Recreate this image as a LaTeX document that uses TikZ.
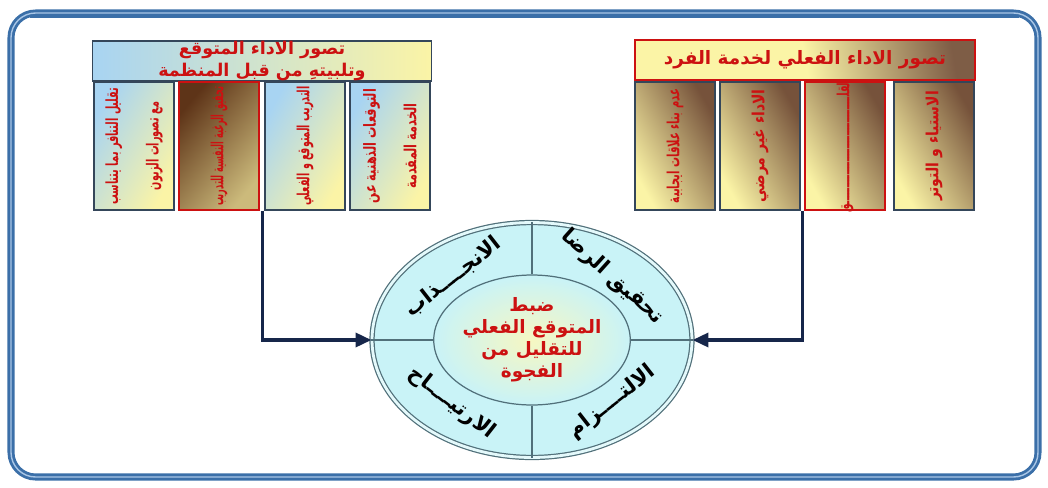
\documentclass[tikz,border=0pt]{standalone}
\usepackage{fontspec}
\newfontfamily\arabicfont[Script=Arabic]{DejaVu Sans}
\TeXXeTstate=1
\usetikzlibrary{positioning, arrows.meta, calc, shapes.geometric}

\definecolor{framebl}{HTML}{3B6FA8}
\definecolor{framelt}{HTML}{A9C6E6}
\definecolor{hdrblue}{HTML}{A8D4F2}
\definecolor{baryel}{HTML}{FBF4A6}
\definecolor{barbrown}{HTML}{5E3418}
\definecolor{edgegray}{HTML}{34465A}
\definecolor{txtred}{HTML}{CC1111}
\definecolor{ringfill}{HTML}{C9F3F7}
\definecolor{coreyel}{HTML}{F6F7C2}
\definecolor{ringedge}{HTML}{51707A}
\definecolor{linknavy}{HTML}{16264A}

\newcommand{\ar}[1]{{\arabicfont\beginR #1\endR}}

\tikzset{
    hdrbox/.style={rectangle, inner sep=0pt, minimum height=0.8cm,
        font=\fontsize{10}{12}\bfseries, text=txtred, align=center},
    bluebar/.style={draw=edgegray, line width=0.6pt,
        left color=hdrblue, right color=baryel, shading angle=60},
    brownbar/.style={draw=txtred, line width=0.8pt,
        left color=barbrown, middle color=baryel, right color=baryel!70!barbrown, shading angle=50},
    rbar/.style={draw=edgegray, line width=0.6pt,
        left color=baryel, middle color=baryel, right color=barbrown!85, shading angle=120},
    rbarred/.style={rbar, draw=txtred, line width=0.8pt},
    colbox/.style={rectangle, inner sep=0pt, minimum width=1.6cm, minimum height=2.56cm},
    coltext/.style={rotate=90, font=\fontsize{9.5}{23}\bfseries, text=txtred, align=center},
    link/.style={draw=linknavy, line width=1.8pt, -{Triangle[length=9pt,width=8pt]}},
    divline/.style={draw=ringedge, line width=0.7pt},
    quarter/.style={font=\fontsize{12}{14}\bfseries, text=black}
}

\begin{document}
\begin{tikzpicture}[x=0.02cm, y=-0.02cm]
    \useasboundingbox (0,0) rectangle (1048,487);

    % frame
    \draw[framebl, line width=4pt, rounded corners=14pt] (11,13) rectangle (1038,477);
    \draw[framebl, line width=3pt] (30,15) -- (1019,15);
    \draw[framelt, line width=0.8pt, rounded corners=14pt] (11,13) rectangle (1038,477);

    % headers
    \node[hdrbox, draw=edgegray, line width=0.6pt, left color=hdrblue, right color=baryel,
        minimum width=6.78cm] (lhdr) at (262,61)
        {\ar{تصور الاداء المتوقع}\\\ar{وتلبيتهِ من قبل المنظمة}};
    \node[hdrbox, draw=txtred, line width=0.8pt, left color=baryel, right color=barbrown!80,
        middle color=baryel, shading angle=100, minimum width=6.8cm,
        font=\fontsize{10.5}{12}\bfseries] (rhdr) at (805,60)
        {\ar{تصور الاداء الفعلي لخدمة الفرد}};

    % columns under the headers
    \foreach \name/\cx/\sty/\sc/\txt in {
        lc1/134/bluebar/0.58/{\ar{تقليل التنافر بما يتناسب}\\\ar{مع تصورات الزبون}},
        lc2/219/brownbar/0.48/{\ar{تحقيق الرغبة النفسية للتدريب}},
        lc3/305/bluebar/0.57/{\ar{التدريب المتوقع و الفعلي}},
        lc4/390/bluebar/0.68/{\ar{التوقعات الذهنية عن}\\\ar{الخدمة المقدمة}},
        rc1/675/rbar/0.6/{\ar{عدم بناء علاقات ايجابية}},
        rc2/760/rbar/0.84/{\ar{الاداء غير مرضي}},
        rc3/845/rbarred/0.57/{\ar{القلـــــــــــــــــــــــــــــــــق}},
        rc4/934/rbar/0.84/{\ar{الاستياء و التوتر}}}{
        \node[colbox, \sty] (\name) at (\cx,146) {};
        \node[coltext, xscale=\sc] at (\name.center) {\txt};
    }

    % ring and core
    \node[ellipse, minimum width=6.4cm, minimum height=4.7cm, inner sep=0pt,
        fill=ringfill, draw=ringedge, line width=0.7pt,
        double=ringfill!50!white, double distance=1.6pt] (ring) at (532,340) {};
    \node[ellipse, minimum width=3.66cm, minimum height=2.6cm, inner sep=0pt,
        inner color=coreyel, outer color=ringfill, draw=ringedge, line width=0.7pt,
        font=\fontsize{10.5}{12.5}\bfseries, text=txtred, align=center] (core) at (532,340)
        {\ar{ضبط}\\\ar{المتوقع الفعلي}\\\ar{للتقليل من}\\\ar{الفجوة}};
    \foreach \side in {north, south, east, west}
        \draw[divline] (core.\side) -- (ring.\side);

    \node[quarter, rotate=38] (q1) at (453,277) {\ar{الانجــــذاب}};
    \node[quarter, rotate=-42] (q2) at (612,277) {\ar{تحقيق الرضا}};
    \node[quarter, rotate=-38] (q3) at (452,403) {\ar{الارتيــــاح}};
    \node[quarter, rotate=38] (q4) at (612,402) {\ar{الالتــــزام}};

    % links
    \draw[link] ($(lc2.south east)!0.5!(lc3.south west)$) |- (ring.west);
    \draw[link] ($(rc2.south east)!0.5!(rc3.south west)$) |- (ring.east);
\end{tikzpicture}
\end{document}
